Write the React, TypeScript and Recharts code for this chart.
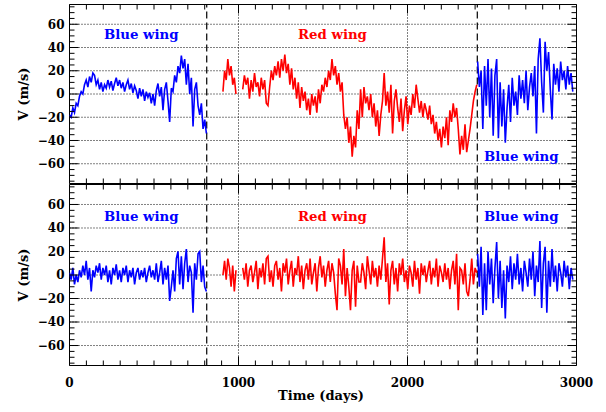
import React from 'react';
import { LineChart, Line, XAxis, YAxis, ReferenceLine, ReferenceArea } from 'recharts';

// ---- Data (days, velocity m/s) ----
const BLUE1_RANGE = [0, 810];
const RED1_RANGE = [908, 985];
const RED2_RANGE = [1025, 2410];
const BLUE2_RANGE = [2415, 2978];
const DASHED_DAYS = [812, 2413];

const blue1Top = [
  -18, -20, -12, -16, -8, -10, -2, 2, 0, 8,
  12, 6, 15, 10, 18, 16, 8, 12, 4, 10,
  2, 8, 5, 12, 6, 11, 3, 9, 14, 7,
  12, 5, 10, 2, 8, 12, 4, 9, 1, 7,
  3, -4, 5, -2, 4, -6, 2, -3, 1, -8,
  0, -10, 3, 9, -2, 6, -14, 4, 10, -6,
  -24, 5, 2, 16, 10, 24, 18, 33, 22, 30,
  8, 26, 0, 14, -28, 4, 10, -10, -18, -8,
  -30, -22, -34,
];
const red1Top = [2, 20, 12, 30, 16, 24, 8, 14, 0];
const red2Top = [
  4, 16, 8, 14, -4, 12, 2, 18, 6, 10,
  -2, 14, 4, 12, -8, -10, 6, 20, 12, 24,
  16, 28, 14, 30, 20, 34, 18, 26, 8, 22,
  4, 14, -4, 10, -12, 6, -6, 2, -14, -4,
  -18, 0, -10, -2, -16, 4, -8, 8, 2, 14,
  6, 20, 12, 30, 16, 24, 8, 18, 2, 10,
  -18, -30, -20, -42, -28, -54, -36, -46, -14, -30,
  4, -20, 6, -8, -2, -14, 0, -20, -8, -28,
  -14, -36, -18, -6, 18, -10, 2, -16, 8, -34,
  -6, 4, -12, -24, -4, -32, -14, -2, -26, -10,
  -18, 0, -12, 8, -4, -16, -6, -20, -8, -14,
  -22, -10, -26, -18, -34, -24, -40, -30, -46, -28,
  -38, -20, -44, -14, -24, -8, -20, -12, -30, -52,
  -36, -48, -26, -50, -40, -30, -18, -6, 2, 8,
];
const blue2Top = [
  28, 6, 20, -30, 24, -10, 30, -20, 22, -36,
  16, 30, -38, 10, -28, 4, -42, -12, 8, -24,
  14, -10, 2, -18, 16, -4, 12, -8, 20, -14,
  6, 18, -2, 24, -34, 30, 48, 10, -16, 45,
  20, 36, 4, -22, 26, 8, 22, 2, 28, 12,
  20, 4, 24, 8, 18, 2,
];

const blue1Bottom = [
  2, -4, 6, -8, 0, -6, 4, -2, 8, 0,
  12, -4, 6, -14, 4, -2, 8, 2, 10, -4,
  6, 0, 8, -6, 4, -8, 6, 0, 9, -4,
  4, -6, 6, 0, 8, -6, 4, -2, 6, -8,
  2, 6, -4, 4, -2, 6, -6, 2, 8, -2,
  4, -4, 10, -6, 2, 12, -8, 6, -4, 8,
  -22, -10, 4, -14, 14, 20, -8, 16, -12, 10,
  22, -6, 8, 2, -32, 10, -4, 18, 20, -6,
  8, -10, -14,
];
const red1Bottom = [0, 12, -4, 14, 6, -10, 8, -14, 4];
const red2Bottom = [
  6, -4, 10, -10, 4, 8, -6, 2, 12, -12,
  6, -2, 10, -8, 14, 16, -6, 4, -10, 8,
  12, -4, 6, -14, 10, 2, 14, -8, 4, 12,
  -10, 6, 0, 16, -6, 8, -12, 4, 10, -4,
  14, -8, 2, 10, -14, 6, 16, -2, 8, -10,
  4, 12, -6, 10, 2, -16, -30, 14, 8, -8,
  22, -18, 6, -10, -30, 4, 12, -27, 8, -6,
  -6, 10, 2, -12, 16, 4, -8, 12, -2, 6,
  -10, 8, -4, 14, 32, -6, 10, -25, 4, 12,
  -8, 6, -14, 10, 0, 14, -6, 4, -12, 8,
  2, -10, 12, -4, 6, -16, 10, 0, 8, -6,
  4, 12, -8, 6, -2, 14, -10, 8, 2, -6,
  10, -4, 6, -12, 4, 12, -8, 18, -30, 6,
  4, -8, 10, -14, -18, -4, 14, -8, 6, 2,
];
const blue2Bottom = [
  18, -10, 24, -34, 10, -30, 20, -8, 14, -24,
  6, 28, -20, 12, -28, 4, -37, 8, -6, 16,
  -12, 10, -4, 18, -8, 6, -14, 12, 2, -10,
  14, -4, 20, -18, 8, -6, 29, -28, 10, 24,
  -32, 12, -10, 22, -6, 8, -14, 10, 2, -10,
  12, -2, 8, -12, 6, -4,
];

const X_TICKS = [
  0, 100, 200, 300, 400, 500, 600, 700, 800, 900, 1000,
  1100, 1200, 1300, 1400, 1500, 1600, 1700, 1800, 1900, 2000,
  2100, 2200, 2300, 2400, 2500, 2600, 2700, 2800, 2900, 3000,
];
const Y_TICKS = [
  -75, -70, -65, -60, -55, -50, -45, -40, -35, -30, -25, -20, -15, -10, -5, 0,
  5, 10, 15, 20, 25, 30, 35, 40, 45, 50, 55, 60, 65, 70, 75,
];
const GRID_Y = [-60, -40, -20, 0, 20, 40, 60];
const GRID_X = [1000, 2000];
const Y_DOMAIN = [-77, 77];
const X_DOMAIN = [0, 3000];

const BLUE = '#0000ff';
const RED = '#ff0000';
const FONT = '"DejaVu Serif", serif';

const seg = (range: number[], vals: number[]) =>
  vals.map((v, i) => ({ t: range[0] + ((range[1] - range[0]) * i) / (vals.length - 1), v }));

const XTick = (props: any) => {
  const { x, y, payload, plotH, showLabel } = props;
  const v = payload.value;
  const major = v % 1000 === 0;
  const len = major ? 9 : 5;
  return (
    <g>
      <line x1={x} x2={x} y1={y} y2={y - len} stroke="#000" strokeWidth={1} />
      <line x1={x} x2={x} y1={y - plotH} y2={y - plotH + len} stroke="#000" strokeWidth={1} />
      {showLabel && major ? (
        <text x={x} y={y + 21} textAnchor="middle" fontFamily={FONT} fontWeight="bold" fontSize={12} fill="#000">
          {v}
        </text>
      ) : null}
    </g>
  );
};

const YTick = (props: any) => {
  const { x, y, payload, plotW } = props;
  const v = payload.value;
  const major = v % 20 === 0;
  const len = major ? 9 : 5;
  const label = v < 0 ? '\u2212' + Math.abs(v) : String(v);
  return (
    <g>
      <line x1={x} x2={x + len} y1={y} y2={y} stroke="#000" strokeWidth={1} />
      <line x1={x + plotW} x2={x + plotW - len} y1={y} y2={y} stroke="#000" strokeWidth={1} />
      {major ? (
        <text x={x - 5} y={y} dy="0.36em" textAnchor="end" fontFamily={FONT} fontWeight="bold" fontSize={12} fill="#000">
          {label}
        </text>
      ) : null}
    </g>
  );
};

type PanelProps = {
  height: number;
  margin: { top: number; right: number; bottom: number; left: number };
  plotH: number;
  showLabels: boolean;
  blue1: number[];
  red1: number[];
  red2: number[];
  blue2: number[];
};

const Y_AXIS_W = 69.5;
const RIGHT_M = 29.5;
const LW = 1.6;

const Panel = ({ height, margin, plotH, showLabels, blue1, red1, red2, blue2 }: PanelProps) => {
  const plotW = 606 - margin.right - Y_AXIS_W;
  return (
    <LineChart width={606} height={height} margin={margin}>
      <XAxis
        type="number"
        dataKey="t"
        domain={X_DOMAIN}
        allowDataOverflow
        ticks={X_TICKS}
        interval={0}
        height={0.5}
        tickSize={0}
        tickMargin={0}
        tickLine={false}
        axisLine={false}
        tick={(p: any) => <XTick {...p} plotH={plotH} showLabel={showLabels} />}
      />
      <YAxis
        type="number"
        domain={Y_DOMAIN}
        allowDataOverflow
        ticks={Y_TICKS}
        interval={0}
        width={Y_AXIS_W}
        tickSize={0}
        tickMargin={0}
        tickLine={false}
        axisLine={false}
        tick={(p: any) => <YTick {...p} plotW={plotW} />}
      />
      {GRID_Y.map((g) => (
        <ReferenceLine key={'gy' + g} y={g} stroke="#000" strokeWidth={1} strokeDasharray="1 2" />
      ))}
      {GRID_X.map((g) => (
        <ReferenceLine key={'gx' + g} x={g} stroke="#000" strokeWidth={1} strokeDasharray="1 2" />
      ))}
      {DASHED_DAYS.map((d) => (
        <ReferenceLine key={'d' + d} x={d} stroke="#000" strokeWidth={1.2} strokeDasharray="7 4" />
      ))}
      <ReferenceArea x1={X_DOMAIN[0]} x2={X_DOMAIN[1]} y1={Y_DOMAIN[0]} y2={Y_DOMAIN[1]} fill="none" fillOpacity={0} stroke="#000" strokeWidth={1} />
      <Line data={seg(BLUE1_RANGE, blue1)} dataKey="v" stroke={BLUE} strokeWidth={LW} dot={false} isAnimationActive={false} />
      <Line data={seg(RED1_RANGE, red1)} dataKey="v" stroke={RED} strokeWidth={LW} dot={false} isAnimationActive={false} />
      <Line data={seg(RED2_RANGE, red2)} dataKey="v" stroke={RED} strokeWidth={LW} dot={false} isAnimationActive={false} />
      <Line data={seg(BLUE2_RANGE, blue2)} dataKey="v" stroke={BLUE} strokeWidth={LW} dot={false} isAnimationActive={false} />
    </LineChart>
  );
};

const ann = { fontFamily: FONT, fontWeight: 'bold' as const, fontSize: 13.3 };

export default function App() {
  return (
    <div style={{ position: 'absolute', left: 0, top: 0, width: 606, height: 412, background: '#fff' }}>
      <div style={{ position: 'absolute', left: 0, top: 0 }}>
        <Panel
          height={184}
          margin={{ top: 4.5, right: RIGHT_M, bottom: 0, left: 0 }}
          plotH={179}
          showLabels={false}
          blue1={blue1Top}
          red1={red1Top}
          red2={red2Top}
          blue2={blue2Top}
        />
      </div>
      <div style={{ position: 'absolute', left: 0, top: 184 }}>
        <Panel
          height={228}
          margin={{ top: 0.5, right: RIGHT_M, bottom: 46, left: 0 }}
          plotH={181}
          showLabels={true}
          blue1={blue1Bottom}
          red1={red1Bottom}
          red2={red2Bottom}
          blue2={blue2Bottom}
        />
      </div>
      <svg width={606} height={412} style={{ position: 'absolute', left: 0, top: 0, pointerEvents: 'none' }}>
        <text x={104} y={39} fill={BLUE} {...ann}>Blue wing</text>
        <text x={298} y={39} fill={RED} {...ann}>Red wing</text>
        <text x={484} y={161} fill={BLUE} {...ann}>Blue wing</text>
        <text x={104} y={220.5} fill={BLUE} {...ann}>Blue wing</text>
        <text x={298} y={220.5} fill={RED} {...ann}>Red wing</text>
        <text x={484} y={220.5} fill={BLUE} {...ann}>Blue wing</text>
        <text x={28} y={94} transform="rotate(-90 28 94)" textAnchor="middle" fontFamily={FONT} fontWeight="bold" fontSize={13} fill="#000">V (m/s)</text>
        <text x={28} y={275} transform="rotate(-90 28 275)" textAnchor="middle" fontFamily={FONT} fontWeight="bold" fontSize={13} fill="#000">V (m/s)</text>
        <text x={321} y={400} textAnchor="middle" fontFamily={FONT} fontWeight="bold" fontSize={13} fill="#000">Time (days)</text>
      </svg>
    </div>
  );
}
